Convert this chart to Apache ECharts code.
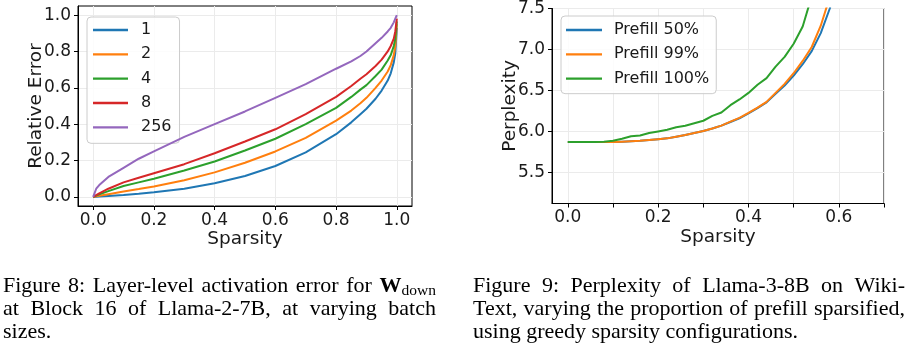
<!DOCTYPE html>
<html>
<head>
<meta charset="utf-8">
<script src="https://cdn.jsdelivr.net/npm/echarts@6/dist/echarts.min.js"></script>
<style>
html,body{margin:0;padding:0;background:#fff;}
#c{width:910px;height:352px;}
</style>
</head>
<body>
<div id="c"></div>
<script>
// ---------- Data: Figure 8 (Relative error vs sparsity) ----------
const sparsityA = [0, 0.01, 0.02, 0.05, 0.1, 0.15, 0.2, 0.3, 0.4, 0.5, 0.6, 0.7, 0.8, 0.85, 0.88, 0.9, 0.93, 0.95, 0.97, 0.98, 0.99, 0.995, 1.0];
const errBatch1   = [0, 0.001, 0.002, 0.005, 0.010, 0.017, 0.025, 0.045, 0.075, 0.115, 0.170, 0.245, 0.345, 0.410, 0.455, 0.485, 0.540, 0.585, 0.640, 0.680, 0.740, 0.790, 0.930];
const errBatch2   = [0, 0.003, 0.006, 0.015, 0.030, 0.043, 0.057, 0.092, 0.135, 0.188, 0.250, 0.325, 0.420, 0.475, 0.515, 0.545, 0.600, 0.640, 0.690, 0.725, 0.780, 0.830, 0.950];
const errBatch4   = [0, 0.007, 0.014, 0.032, 0.060, 0.080, 0.100, 0.145, 0.195, 0.255, 0.320, 0.400, 0.490, 0.550, 0.590, 0.615, 0.665, 0.700, 0.750, 0.780, 0.830, 0.870, 0.965];
const errBatch8   = [0, 0.010, 0.020, 0.045, 0.080, 0.105, 0.130, 0.180, 0.240, 0.305, 0.372, 0.455, 0.550, 0.610, 0.650, 0.675, 0.720, 0.755, 0.800, 0.830, 0.870, 0.910, 0.980];
const errBatch256 = [0, 0.045, 0.065, 0.110, 0.160, 0.210, 0.250, 0.330, 0.400, 0.470, 0.545, 0.620, 0.705, 0.745, 0.775, 0.800, 0.845, 0.875, 0.910, 0.930, 0.960, 0.980, 1.000];
const batchNames = ['1', '2', '4', '8', '256'];
const xTicksA = [0, 0.2, 0.4, 0.6, 0.8, 1.0];
const yTicksA = [0, 0.2, 0.4, 0.6, 0.8, 1.0];

// ---------- Data: Figure 9 (Perplexity vs sparsity) ----------
const sparsityB = [0, 0.02, 0.04, 0.06, 0.08, 0.10, 0.12, 0.14, 0.16, 0.18, 0.20, 0.22, 0.24, 0.26, 0.28, 0.30, 0.32, 0.34, 0.36, 0.38, 0.40, 0.42, 0.44, 0.46, 0.48, 0.50, 0.52, 0.54, 0.56, 0.58, 0.60];
const pplPrefill50  = [5.87, 5.87, 5.87, 5.87, 5.87, 5.87, 5.875, 5.88, 5.885, 5.895, 5.905, 5.915, 5.935, 5.955, 5.98, 6.005, 6.035, 6.07, 6.115, 6.16, 6.22, 6.285, 6.355, 6.46, 6.56, 6.68, 6.82, 6.98, 7.20, 7.50, 7.90];
const pplPrefill99  = [5.87, 5.87, 5.87, 5.87, 5.87, 5.87, 5.875, 5.88, 5.885, 5.895, 5.905, 5.915, 5.935, 5.955, 5.98, 6.005, 6.035, 6.07, 6.12, 6.165, 6.225, 6.29, 6.36, 6.47, 6.58, 6.71, 6.86, 7.03, 7.29, 7.64, 8.10];
const pplPrefill100 = [5.87, 5.87, 5.87, 5.87, 5.875, 5.885, 5.91, 5.94, 5.95, 5.98, 6.00, 6.02, 6.05, 6.07, 6.10, 6.13, 6.19, 6.23, 6.32, 6.39, 6.47, 6.57, 6.65, 6.79, 6.91, 7.07, 7.28, 7.65, 8.10, 8.60, 9.10];
const prefillNames = ['Prefill 50%', 'Prefill 99%', 'Prefill 100%'];
const xTicksB = [0, 0.1, 0.2, 0.3, 0.4, 0.5, 0.6, 0.7];
const xLabelsB = [0, 0.2, 0.4, 0.6];
const yTicksB = [5.5, 6.0, 6.5, 7.0, 7.5];

// ---------- Captions ----------
const cap8 = [
  'Figure 8: Layer-level activation error for',
  'at Block 16 of Llama-2-7B, at varying batch',
  'sizes.'
];
const cap9 = [
  'Figure 9:  Perplexity of Llama-3-8B on Wiki-',
  'Text, varying the proportion of prefill sparsified,',
  'using greedy sparsity configurations.'
];

const colors = ['#1f77b4', '#ff7f0e', '#2ca02c', '#d62728', '#9467bd'];
const SANS = '"DejaVu Sans", sans-serif';
const SERIF = '"Liberation Serif", "Times New Roman", serif';

function zip(xs, ys) { return xs.map((x, i) => [x, ys[i]]); }

// text measurement for justified caption layout
const mctx = document.createElement('canvas').getContext('2d');
function fontOf(r) { return (r.bold ? 'bold ' : '') + r.size + 'px ' + SERIF; }
function measure(t, f) { mctx.font = f; return mctx.measureText(t).width; }
function layoutLine(words, x0, x1, y, justify) {
  const widths = words.map(w => w.reduce((s, r) => s + measure(r.t, fontOf(r)), 0));
  const total = widths.reduce((a, b) => a + b, 0);
  const gap = justify ? (x1 - x0 - total) / (words.length - 1) : measure(' ', fontOf({size: 22}));
  let x = x0;
  const els = [];
  words.forEach((w, i) => {
    let xx = x;
    w.forEach(r => {
      els.push({type: 'text', x: xx, y: y + (r.dy || 0), silent: true,
        style: {text: r.t, font: fontOf(r), fill: '#000', textVerticalAlign: 'middle', textAlign: 'left'}});
      xx += measure(r.t, fontOf(r));
    });
    x += widths[i] + gap;
  });
  return els;
}
function wordsOf(line) { return line.split(/\s+/).filter(s => s).map(s => [{t: s, size: 22}]); }

const CAP_Y = [286, 309.5, 332.5];
let graphics = [];
{
  const w1 = wordsOf(cap8[0]);
  w1.push([{t: 'W', size: 22, bold: true}, {t: 'down', size: 15.5, dy: 4.5}]);
  graphics = graphics.concat(layoutLine(w1, 3, 436, CAP_Y[0], true));
  graphics = graphics.concat(layoutLine(wordsOf(cap8[1]), 3, 436, CAP_Y[1], true));
  graphics = graphics.concat(layoutLine(wordsOf(cap8[2]), 3, 436, CAP_Y[2], false));
  graphics = graphics.concat(layoutLine(wordsOf(cap9[0]), 473, 905, CAP_Y[0], true));
  graphics = graphics.concat(layoutLine(wordsOf(cap9[1]), 473, 905, CAP_Y[1], true));
  graphics = graphics.concat(layoutLine(wordsOf(cap9[2]), 473, 905, CAP_Y[2], false));
}

const tickStyle = {show: true, inside: false, length: 4, lineStyle: {color: '#000', width: 1}};
const labelStyle = {fontSize: 17, fontFamily: SANS, color: '#1a1a1a'};
const splitStyle = {show: true, lineStyle: {color: '#ebebeb', width: 1}};
const nameStyle = {fontSize: 18.5, fontFamily: SANS, color: '#1a1a1a'};
const legendBase = {
  orient: 'vertical', itemGap: 8.33, itemHeight: 16, symbolKeepAspect: true,
  backgroundColor: 'rgba(255,255,255,0.85)', borderColor: '#cccccc', borderWidth: 1, borderRadius: 4,
  textStyle: {fontSize: 16, fontFamily: SANS, color: '#1a1a1a', lineHeight: 16}
};

const seriesA = [errBatch1, errBatch2, errBatch4, errBatch8, errBatch256].map((d, i) => ({
  name: batchNames[i], type: 'line', xAxisIndex: 0, yAxisIndex: 0, data: zip(sparsityA, d),
  showSymbol: false, symbol: 'none', lineStyle: {width: 2, color: colors[i]}, itemStyle: {color: colors[i]},
  clip: true, z: 2 + i
}));
const seriesB = [pplPrefill50, pplPrefill99, pplPrefill100].map((d, i) => ({
  name: prefillNames[i], type: 'line', xAxisIndex: 1, yAxisIndex: 1, data: zip(sparsityB, d),
  showSymbol: false, symbol: 'none', lineStyle: {width: 2, color: colors[i]}, itemStyle: {color: colors[i]},
  clip: true, z: 2 + i
}));

const option = {
  animation: false,
  backgroundColor: '#fff',
  grid: [
    {left: 78, top: 6, width: 334, height: 200, show: true, borderColor: '#000', borderWidth: 1, backgroundColor: 'transparent'},
    {left: 552, top: 6, width: 332, height: 197.5, show: true, borderColor: '#000', borderWidth: 1, backgroundColor: 'transparent'}
  ],
  xAxis: [
    {type: 'value', gridIndex: 0, min: -0.05, max: 1.05,
      axisLine: {show: true, onZero: false, lineStyle: {color: '#000'}},
      axisTick: Object.assign({}, tickStyle, {customValues: xTicksA}),
      axisLabel: Object.assign({}, labelStyle, {customValues: xTicksA, margin: 6, formatter: v => v.toFixed(1)}),
      splitLine: splitStyle, nameMoveOverlap: false,
      name: 'Sparsity', nameLocation: 'middle', nameGap: 24, nameTextStyle: Object.assign({}, nameStyle, {verticalAlign: 'top'})},
    {type: 'value', gridIndex: 1, min: -0.035, max: 0.7,
      axisLine: {show: true, onZero: false, lineStyle: {color: '#000'}},
      axisTick: Object.assign({}, tickStyle, {customValues: xTicksB}),
      axisLabel: Object.assign({}, labelStyle, {customValues: xLabelsB, margin: 6, formatter: v => v.toFixed(1)}),
      splitLine: splitStyle, nameMoveOverlap: false,
      name: 'Sparsity', nameLocation: 'middle', nameGap: 24, nameTextStyle: Object.assign({}, nameStyle, {verticalAlign: 'top'})}
  ],
  yAxis: [
    {type: 'value', gridIndex: 0, min: -0.05, max: 1.05,
      axisLine: {show: true, onZero: false, lineStyle: {color: '#000'}},
      axisTick: Object.assign({}, tickStyle, {customValues: yTicksA}),
      axisLabel: Object.assign({}, labelStyle, {customValues: yTicksA, margin: 7, formatter: v => v.toFixed(1)}),
      splitLine: splitStyle, nameMoveOverlap: false,
      name: 'Relative Error', nameLocation: 'middle', nameGap: 32, nameTextStyle: nameStyle},
    {type: 'value', gridIndex: 1, min: 5.12, max: 7.5,
      axisLine: {show: true, onZero: false, lineStyle: {color: '#000'}},
      axisTick: Object.assign({}, tickStyle, {customValues: yTicksB}),
      axisLabel: Object.assign({}, labelStyle, {customValues: yTicksB, margin: 7, formatter: v => v.toFixed(1)}),
      splitLine: splitStyle, nameMoveOverlap: false,
      name: 'Perplexity', nameLocation: 'middle', nameGap: 32, nameTextStyle: nameStyle}
  ],
  legend: [
    Object.assign({}, legendBase, {data: batchNames, left: 87, top: 17, itemWidth: 35, padding: [5, 8, 8, 6],
      icon: 'path://M0,0H35V2.3H0Z',
      textStyle: Object.assign({}, legendBase.textStyle, {padding: [0, 0, 0, 8]})}),
    Object.assign({}, legendBase, {data: prefillNames, left: 561, top: 16, itemWidth: 36, padding: [6, 7, 7, 5],
      icon: 'path://M0,0H36V2.3H0Z',
      textStyle: Object.assign({}, legendBase.textStyle, {padding: [0, 0, 0, 7]})})
  ],
  series: seriesA.concat(seriesB),
  graphic: graphics
};

const chart = echarts.init(document.getElementById('c'), null, {renderer: 'canvas'});
chart.setOption(option);
</script>
</body>
</html>
